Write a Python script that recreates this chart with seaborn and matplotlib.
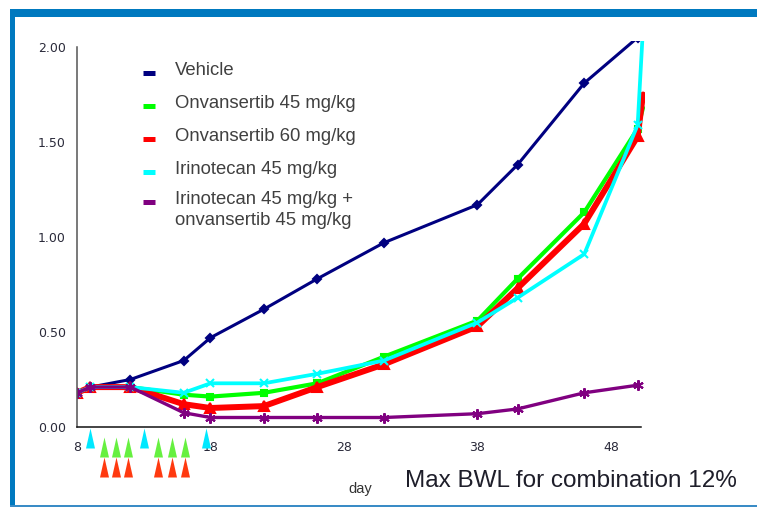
import matplotlib
matplotlib.use("Agg")
import matplotlib.pyplot as plt
from matplotlib.lines import Line2D
from matplotlib.patches import Rectangle
import pandas as pd
import seaborn as sns

# measurement days and mean tumour volume per arm
days = [8, 9, 12, 16, 18, 22, 26, 31, 38, 41, 46, 50]
tail_day = 50.4

vehicle = [0.18, 0.21, 0.25, 0.35, 0.47, 0.62, 0.78, 0.97, 1.17, 1.38, 1.81, 2.05]
onv45 = [0.18, 0.21, 0.21, 0.17, 0.16, 0.18, 0.23, 0.37, 0.56, 0.78, 1.13, 1.57]
onv60 = [0.18, 0.21, 0.21, 0.12, 0.10, 0.11, 0.21, 0.33, 0.53, 0.73, 1.07, 1.53]
irino45 = [0.18, 0.21, 0.21, 0.18, 0.23, 0.23, 0.28, 0.35, 0.55, 0.68, 0.91, 1.59]
combo = [0.18, 0.21, 0.21, 0.075, 0.05, 0.05, 0.05, 0.05, 0.07, 0.095, 0.18, 0.22]

onv45_tail = 1.68
onv60_tail = 1.75
irino45_tail = 2.10

groups = [
    "Vehicle",
    "Onvansertib 45 mg/kg",
    "Onvansertib 60 mg/kg",
    "Irinotecan 45 mg/kg",
    "Irinotecan 45 mg/kg +\nonvansertib 45 mg/kg",
]
colors = ["#000080", "#00FF00", "#FF0000", "#00FFFF", "#800080"]
markers = ["D", "s", "^", "x", (6, 2, 0)]
marker_sizes = [4.5, 5, 7, 6, 7.5]
line_widths = [2.2, 3.0, 4.3, 2.7, 2.4]

# dosing schedule shown under the axis
irino_days = [9, 13, 17.7]
onv_days = [10, 10.9, 11.8, 14.1, 15.1, 16.1]

x_ticks = [8, 18, 28, 38, 48]
y_ticks = [0.0, 0.5, 1.0, 1.5, 2.0]

series = {
    groups[0]: (days, vehicle),
    groups[1]: (days + [tail_day], onv45 + [onv45_tail]),
    groups[2]: (days + [tail_day], onv60 + [onv60_tail]),
    groups[3]: (days + [tail_day], irino45 + [irino45_tail]),
    groups[4]: (days, combo),
}
rows = []
for name, (d, v) in series.items():
    for day, val in zip(d, v):
        rows.append({"group": name, "day": day, "value": val})
df = pd.DataFrame(rows)

sns.set_style("white")
plt.rcParams["font.family"] = ["Liberation Sans", "DejaVu Sans"]

W, H = 757, 508
fig = plt.figure(figsize=(W / 100, H / 100), dpi=100)
ax = fig.add_axes([77 / W, 1 - 427 / H, 568 / W, (427 - 41.3) / H])

sns.lineplot(
    data=df, x="day", y="value", hue="group", size="group",
    hue_order=groups, size_order=groups,
    palette=dict(zip(groups, colors)), sizes=dict(zip(groups, line_widths)),
    errorbar=None, legend=False, ax=ax,
    markevery=list(range(len(days))),
)
for line, m, ms, c in zip(ax.lines, markers, marker_sizes, colors):
    line.set_marker(m)
    line.set_markersize(ms)
    line.set_markerfacecolor(c)
    line.set_markeredgecolor(c)
    line.set_markeredgewidth(1.5)
    line.set_solid_joinstyle("round")

ax.set_xlim(8, 50.55)
ax.set_ylim(0, 2.03)
ax.set_xticks(x_ticks)
ax.set_yticks(y_ticks)
ax.set_yticklabels([f"{t:.2f}" for t in y_ticks])
ax.set_xlabel("")
ax.set_ylabel("")
for s in ["top", "right"]:
    ax.spines[s].set_visible(False)
ax.spines["left"].set_bounds(0, 2.0)
ax.spines["bottom"].set_bounds(8, 50.25)
ax.spines["left"].set_color("#555555")
ax.spines["bottom"].set_color("#111111")
ax.spines["left"].set_linewidth(1.1)
ax.spines["bottom"].set_linewidth(1.1)
ax.tick_params(axis="both", direction="out", length=3, width=1, colors="#333333",
               labelsize=9, labelcolor="#2a2a3a")
ax.tick_params(axis="y", pad=5)
ax.tick_params(axis="x", pad=7)
for lab in ax.get_xticklabels() + ax.get_yticklabels():
    lab.set_family("DejaVu Sans")

# dosing arrows
tri = [(-0.45, -1), (0.45, -1), (0, 1), (-0.45, -1)]
trans = ax.get_xaxis_transform()
ax.plot(irino_days, [-0.0285] * len(irino_days), transform=trans, clip_on=False,
        ls="none", marker=tri, ms=14.4, color="#00E8FF", mec="none")
ax.plot(onv_days, [-0.052] * len(onv_days), transform=trans, clip_on=False,
        ls="none", marker=tri, ms=14.4, color="#66F040", mec="none")
ax.plot(onv_days, [-0.105] * len(onv_days), transform=trans, clip_on=False,
        ls="none", marker=tri, ms=14.4, color="#FF3A10", mec="none")

# legend drawn by hand to match the slide layout
handle_y = [73, 106, 139, 172, 202]
text_top = [62, 95, 128, 161, 191]
for name, c, hy, ty in zip(groups, colors, handle_y, text_top):
    fig.add_artist(Line2D([143 / W, 155 / W], [1 - hy / H] * 2, color=c,
                          lw=3.6, solid_capstyle="butt"))
    fig.text(175 / W, 1 - ty / H, name, fontsize=13.3, color="#404040",
             va="top", ha="left", linespacing=1.28)

fig.text(360 / W, 1 - 493 / H, "day", fontsize=10.5, color="#333333",
         ha="center", va="baseline")
fig.text(405 / W, 1 - 487 / H, "Max BWL for combination 12%", fontsize=17.5,
         color="#1e1e2a", ha="left", va="baseline")

# slide frame
blue = "#0079BF"
fig.add_artist(Rectangle((10 / W, 1 - 17 / H), (W - 10) / W, 8 / H,
                         transform=fig.transFigure, color=blue, lw=0))
fig.add_artist(Rectangle((10 / W, 1 - 507 / H), 5 / W, 498 / H,
                         transform=fig.transFigure, color=blue, lw=0))
fig.add_artist(Rectangle((10 / W, 1 - 507 / H), (W - 10) / W, 2 / H,
                         transform=fig.transFigure, color="#3A8CC6", lw=0))

fig.savefig("out.png", dpi=100)
